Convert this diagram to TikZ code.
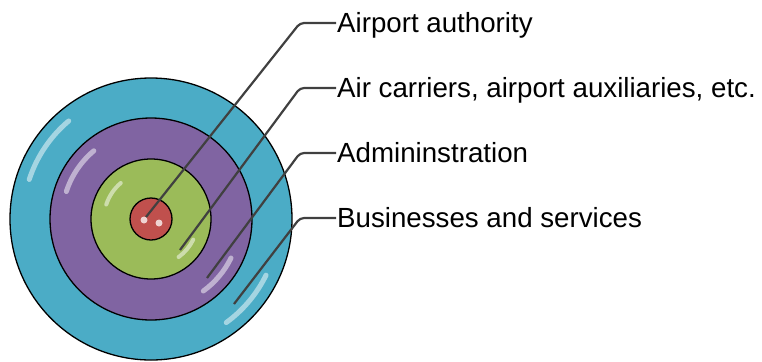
\documentclass[tikz,border=0pt]{standalone}
\usepackage{fontspec}
\setmainfont{Liberation Sans}
\usepackage{tikz}
\usetikzlibrary{calc}
\definecolor{ringblue}{HTML}{4BACC6}
\definecolor{ringpurple}{HTML}{8064A2}
\definecolor{ringgreen}{HTML}{9BBB59}
\definecolor{ringred}{HTML}{C0504D}
\definecolor{leadgray}{HTML}{404040}
\tikzset{
    ring/.style={circle, draw=black, line width=1.3bp, inner sep=0pt, minimum size=#1},
    lbl/.style={anchor=west, inner sep=1bp, text height=21bp, text depth=2bp,
        font=\fontsize{27.8}{31}\selectfont},
    leader/.style={draw=leadgray, line width=2.2bp, rounded corners=4bp},
    gloss/.style={white, line width=#1, opacity=0.5, line cap=round}
}

\begin{document}
\begin{tikzpicture}[x=1bp, y=-1bp]
    \useasboundingbox (0,0) rectangle (762,361);
    % rings, outermost first
    \node[ring=282bp, fill=ringblue] (busi) at (151,219) {};
    \node[ring=202bp, fill=ringpurple] (admin) at (busi.center) {};
    \node[ring=120bp, fill=ringgreen] (carr) at (busi.center) {};
    \node[ring=42bp, fill=ringred] (auth) at (busi.center) {};
    % highlights
    \foreach \rad/\wd in {128/5bp, 89/5bp, 47/4bp}{
        \draw[gloss=\wd] ([shift={(198:\rad)}]busi.center) arc[start angle=198, end angle=230, radius=\rad];
        \draw[gloss=\wd] ([shift={(26:\rad)}]busi.center) arc[start angle=26, end angle=54, radius=\rad];
    }
    \fill[white, opacity=0.75] ($(auth.center)+(-7,1)$) circle (3.5);
    \fill[white, opacity=0.75] ($(auth.center)+(8,4)$) circle (3.5);
    % labels
    \node[lbl] (authL) at (336,23) {Airport authority};
    \node[lbl] (carrL) at (336,88) {Air carriers, airport auxiliaries, etc.};
    \node[lbl] (adminL) at (336,153) {Admininstration};
    \node[lbl] (busiL) at (336,218) {Businesses and services};
    % leader ends
    \coordinate (authP) at (146,217);
    \coordinate (carrP) at (180,250);
    \coordinate (adminP) at (207,278);
    \coordinate (busiP) at (234,304);
    \draw[leader] (authL.west) -- ++(-36,0) -- (authP);
    \draw[leader] (carrL.west) -- ++(-36,0) -- (carrP);
    \draw[leader] (adminL.west) -- ++(-36,0) -- (adminP);
    \draw[leader] (busiL.west) -- ++(-36,0) -- (busiP);
\end{tikzpicture}
\end{document}
